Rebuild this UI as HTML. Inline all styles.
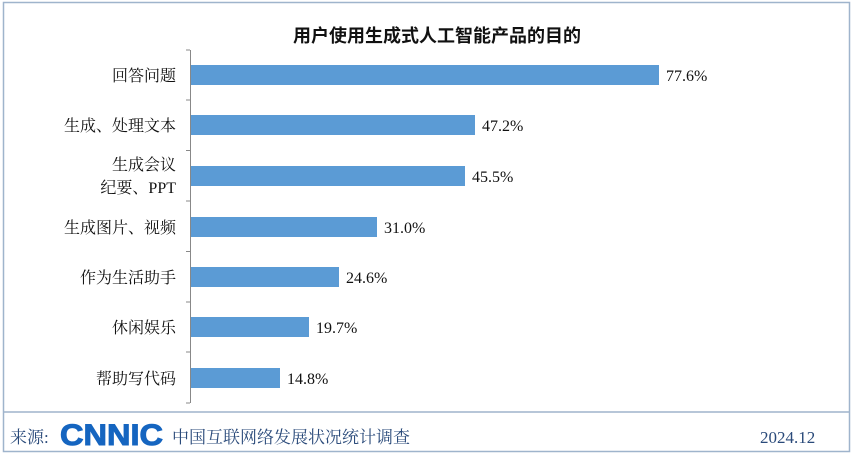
<!DOCTYPE html>
<html><head><meta charset="utf-8"><style>
body{margin:0;background:#fff;}
.w{position:relative;width:854px;height:455px;overflow:hidden;font-family:"Liberation Serif","Noto Serif CJK SC",serif;}
</style></head><body><div class="w">
<svg width="854" height="455" style="position:absolute;left:0;top:0">
<rect x="3.5" y="2.5" width="846" height="449" fill="none" stroke="#9fb4cc" stroke-width="1.5"/>
<line x1="3" y1="412" x2="850" y2="412" stroke="#9fb4cc" stroke-width="1.5"/>
<text x="437" y="42" text-anchor="middle" font-size="18" font-weight="bold" font-family="Liberation Sans,Noto Sans CJK SC,sans-serif" fill="#111">用户使用生成式人工智能产品的目的</text>
<line x1="190.5" y1="50" x2="190.5" y2="403" stroke="#888" stroke-width="1"/>
<g stroke="#888"><line x1="186" y1="50" x2="190" y2="50"/><line x1="186" y1="100" x2="190" y2="100"/><line x1="186" y1="150.5" x2="190" y2="150.5"/><line x1="186" y1="201" x2="190" y2="201"/><line x1="186" y1="251.5" x2="190" y2="251.5"/><line x1="186" y1="302" x2="190" y2="302"/><line x1="186" y1="352" x2="190" y2="352"/><line x1="186" y1="403" x2="190" y2="403"/></g>
<g fill="#5b9bd5">
<rect x="191" y="65" width="468" height="20"/>
<rect x="191" y="115" width="284" height="20"/>
<rect x="191" y="166" width="274" height="20"/>
<rect x="191" y="217" width="186" height="20"/>
<rect x="191" y="267" width="148" height="20"/>
<rect x="191" y="317" width="118" height="20"/>
<rect x="191" y="368" width="89" height="20"/>
</g>
<g font-size="16" fill="#111">
<text x="666" y="81">77.6%</text><text x="482" y="131">47.2%</text><text x="472" y="182">45.5%</text><text x="384" y="233">31.0%</text><text x="346" y="283">24.6%</text><text x="316" y="333">19.7%</text><text x="287" y="384">14.8%</text>
</g>
<g font-size="16" fill="#111" text-anchor="end">
<text x="176" y="81">回答问题</text><text x="176" y="131">生成、处理文本</text><text x="176" y="170">生成会议</text><text x="176" y="193">纪要、PPT</text><text x="176" y="233">生成图片、视频</text><text x="176" y="283">作为生活助手</text><text x="176" y="333">休闲娱乐</text><text x="176" y="384">帮助写代码</text>
</g>
<text x="10" y="443" font-size="17" fill="#2a4a7a">来源:</text>
<text x="60" y="445" font-size="30" font-weight="bold" font-family="Liberation Sans,sans-serif" fill="#1565c0" textLength="103" lengthAdjust="spacingAndGlyphs" stroke="#1565c0" stroke-width="1">CNNIC</text>
<text x="172" y="443" font-size="17" fill="#2a4a7a">中国互联网络发展状况统计调查</text>
<text x="760" y="443" font-size="17" fill="#2a4a7a">2024.12</text>
</svg>
</div></body></html>
